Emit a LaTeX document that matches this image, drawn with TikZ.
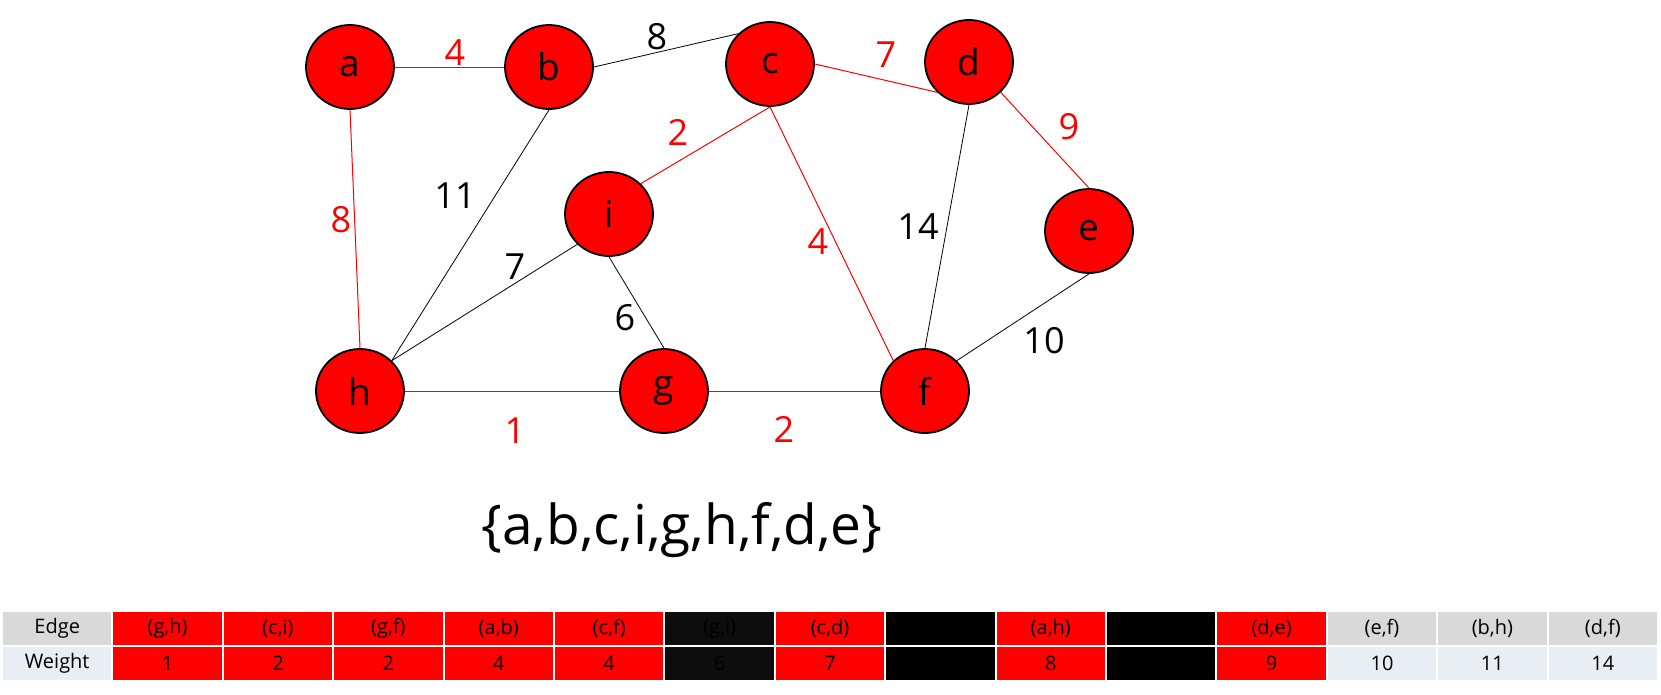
\documentclass[tikz,border=0pt]{standalone}
\usepackage{fontspec}
\setmainfont{Open Sans}
\usepackage{xcolor}
\usetikzlibrary{shapes.geometric, positioning}

\definecolor{vred}{HTML}{FF0000}
\definecolor{hgray}{HTML}{D9D9D9}
\definecolor{wblue}{HTML}{E9EDF4}
\definecolor{nblack}{HTML}{0D0D0D}

\begin{document}
\begin{tikzpicture}[
  x=1pt, y=-1pt,
  vertex/.style={draw, ellipse, line width=1.8pt, fill=vred, minimum width=88pt, minimum height=84pt, inner sep=0pt, font=\fontsize{37}{44}\selectfont},
  used/.style={draw=vred, line width=1pt},
  unused/.style={draw=black, line width=0.8pt},
  wlab/.style={inner sep=0pt, font=\fontsize{36}{43}\selectfont},
  cell/.style={minimum width=108.4pt, minimum height=33pt, inner sep=0pt, outer sep=0pt, font=\fontsize{20}{24}\selectfont},
  redcell/.style={cell, fill=vred},
  darkcell/.style={cell, fill=nblack},
  blackcell/.style={cell, fill=black},
  headcell/.style={cell, fill=hgray},
  wcell/.style={cell, fill=wblue}
]
\useasboundingbox (0,0) rectangle (1661,694);

% vertices
\node[vertex] (a) at (350,67) {a};
\node[vertex] (b) at (549,67) {b};
\node[vertex] (c) at (770,64) {c};
\node[vertex] (d) at (969,62) {d};
\node[vertex] (e) at (1089,231) {e};
\node[vertex] (i) at (609,214) {i};
\node[vertex] (h) at (360,391) {h};
\node[vertex] (g) at (664,391) {g};
\node[vertex] (f) at (925,391) {f};

% edges
\draw[used] (a.east) -- (b.west);
\draw[unused] (b.east) -- (c.north west);
\draw[used] (c.east) -- (d.south west);
\draw[used] (d.south east) -- (e.north);
\draw[used] (c.south) -- (i.north east);
\draw[used] (c.south) -- (f.north west);
\draw[used] (a.south) -- (h.north);
\draw[unused] (b.south) -- (h.north east);
\draw[unused] (i.south west) -- (h.north east);
\draw[unused] (i.south) -- (g.north);
\draw[unused] (d.south) -- (f.north);
\draw[unused] (e.south) -- (f.north east);
\draw[used] (h.east) -- (g.west);
\draw[used] (g.east) -- (f.west);

% weights
\node[wlab, text=vred] (wab) at (455,53) {4};
\node[wlab] (wbc) at (657,37) {8};
\node[wlab, text=vred] (wcd) at (886,55) {7};
\node[wlab, text=vred] (wde) at (1069,127) {9};
\node[wlab, text=vred] (wci) at (678,132) {2};
\node[wlab] (wbh) at (455,196) {11};
\node[wlab, text=vred] (wah) at (341,220) {8};
\node[wlab] (wih) at (515,267) {7};
\node[wlab] (wig) at (625,318) {6};
\node[wlab, text=vred] (wcf) at (818,242) {4};
\node[wlab] (wdf) at (918,227) {14};
\node[wlab] (wef) at (1044,341) {10};
\node[wlab, text=vred] (whg) at (515,431) {1};
\node[wlab, text=vred] (wgf) at (784,429) {2};

% visited set
\node[inner sep=0pt, font=\fontsize{55}{66}\selectfont] (visited) at (682,530) {\{a,b,c,i,g,h,f,d,e\}};

% sorted edge table
\node[headcell, anchor=north west] (e0) at (3,612) {Edge};
\node[redcell, right=2pt of e0] (e1) {(g,h)};
\node[redcell, right=2pt of e1] (e2) {(c,i)};
\node[redcell, right=2pt of e2] (e3) {(g,f)};
\node[redcell, right=2pt of e3] (e4) {(a,b)};
\node[redcell, right=2pt of e4] (e5) {(c,f)};
\node[darkcell, right=2pt of e5] (e6) {(g,i)};
\node[redcell, right=2pt of e6] (e7) {(c,d)};
\node[blackcell, right=2pt of e7] (e8) {};
\node[redcell, right=2pt of e8] (e9) {(a,h)};
\node[blackcell, right=2pt of e9] (e10) {};
\node[redcell, right=2pt of e10] (e11) {(d,e)};
\node[headcell, right=2pt of e11] (e12) {(e,f)};
\node[headcell, right=2pt of e12] (e13) {(b,h)};
\node[headcell, right=2pt of e13] (e14) {(d,f)};

\node[wcell, below=2pt of e0] (w0) {Weight};
\node[redcell, below=2pt of e1] (w1) {1};
\node[redcell, below=2pt of e2] (w2) {2};
\node[redcell, below=2pt of e3] (w3) {2};
\node[redcell, below=2pt of e4] (w4) {4};
\node[redcell, below=2pt of e5] (w5) {4};
\node[darkcell, below=2pt of e6] (w6) {6};
\node[redcell, below=2pt of e7] (w7) {7};
\node[blackcell, below=2pt of e8] (w8) {};
\node[redcell, below=2pt of e9] (w9) {8};
\node[blackcell, below=2pt of e10] (w10) {};
\node[redcell, below=2pt of e11] (w11) {9};
\node[wcell, below=2pt of e12] (w12) {10};
\node[wcell, below=2pt of e13] (w13) {11};
\node[wcell, below=2pt of e14] (w14) {14};
\end{tikzpicture}
\end{document}
